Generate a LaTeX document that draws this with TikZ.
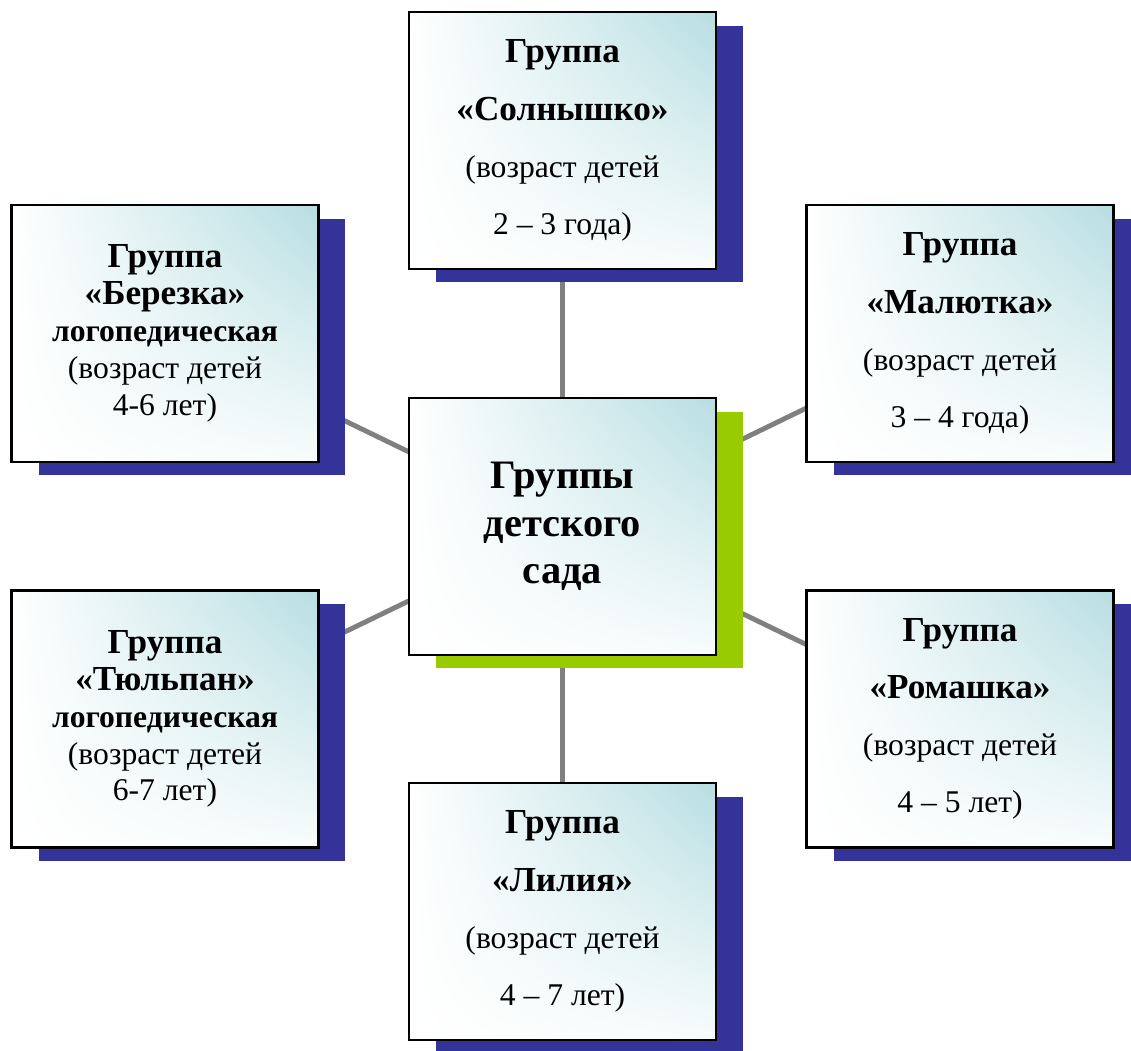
\documentclass[tikz,border=0pt]{standalone}
\usepackage{fontspec}
\setmainfont{Liberation Serif}
\usetikzlibrary{shadows,shadings,backgrounds}
\definecolor{shadowblue}{RGB}{51,51,153}
\definecolor{hubgreen}{RGB}{153,204,0}
\definecolor{boxteal}{RGB}{183,222,226}
\newcommand{\gname}[1]{{\fontsize{20}{24}\selectfont\bfseries #1}}
\tikzset{
  groupbox/.style={draw=black,line width=1.2pt,minimum width=6.14cm,minimum height=5.14cm,
    inner sep=0pt,align=center,shade,upper right=boxteal,upper left=white,
    lower right=boxteal!10,lower left=white,
    drop shadow={shadow xshift=0.54cm,shadow yshift=-0.27cm,opacity=1,fill=#1}},
  groupbox/.default=shadowblue,
  wide/.style={font=\fontsize{18}{32.5}\selectfont},
  tight/.style={font=\fontsize{18}{21}\selectfont},
  link/.style={draw=gray,line width=2.8pt},
}
\begin{document}
\begin{tikzpicture}[x=0.02cm,y=0.02cm]
  \useasboundingbox (0,0) rectangle (1131,1050);
  \node[groupbox=hubgreen,font=\fontsize{23}{27}\selectfont\bfseries] (hub) at (562.5,523.5)
    {Группы\\детского\\сада};
  \node[groupbox,wide] (sun) at (562.5,909.5)
    {\gname{Группа}\\\gname{«Солнышко»}\\(возраст детей\\2 – 3 года)};
  \node[groupbox,tight] (birch) at (165,716.5)
    {\gname{Группа}\\\gname{«Березка»}\\\textbf{логопедическая}\\(возраст детей\\4-6 лет)};
  \node[groupbox,wide] (baby) at (960,716.5)
    {\gname{Группа}\\\gname{«Малютка»}\\(возраст детей\\3 – 4 года)};
  \node[groupbox,tight] (tulip) at (165,331)
    {\gname{Группа}\\\gname{«Тюльпан»}\\\textbf{логопедическая}\\(возраст детей\\6-7 лет)};
  \node[groupbox,wide] (daisy) at (960,331)
    {\gname{Группа}\\\gname{«Ромашка»}\\(возраст детей\\4 – 5 лет)};
  \node[groupbox,wide] (lily) at (562.5,138.5)
    {\gname{Группа}\\\gname{«Лилия»}\\(возраст детей\\4 – 7 лет)};
  \begin{scope}[on background layer]
    \foreach \g in {sun,birch,baby,tulip,daisy,lily}
      \draw[link] (hub.center) -- (\g.center);
  \end{scope}
\end{tikzpicture}
\end{document}
